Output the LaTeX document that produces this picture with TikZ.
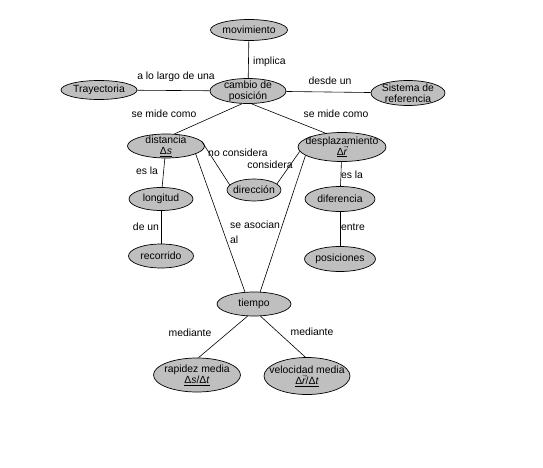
\documentclass[tikz,border=0pt]{standalone}
\usepackage{fontspec}
\setmainfont{Liberation Sans}
\usetikzlibrary{shapes.geometric}
\tikzset{
  tx/.style={font=\fontsize{10.4}{11}\selectfont, align=center, inner sep=0pt},
  el/.style n args={3}{ellipse, draw=black, line width=0.7pt, fill=black!25,
    inner sep=0pt, minimum width=#1pt, minimum height=#2pt,
    label={[tx]center:#3}},
  conn/.style={draw=black, line width=0.6pt},
  lbl/.style={font=\fontsize{10.4}{11}\selectfont, inner sep=0pt, align=center}
}
\begin{document}
\begin{tikzpicture}[x=1pt, y=-1pt]
\useasboundingbox[fill=white] (0,0) rectangle (543,468);
% concepts
\node[el={77}{21}{movimiento}] (mov) at (249,30) {};
\node[el={76}{25}{cambio de\\posición}] (cam) at (248,91) {};
\node[el={76}{19}{Trayectoria}] (tra) at (99,90) {};
\node[el={74}{25}{Sistema de\\referencia}] (sis) at (408,93) {};
\node[el={77}{24}{distancia\\\underline{Δ\textit{s}}}] (dis) at (166,146) {};
\node[el={88}{29}{desplazamiento\\\underline{Δ$\vec{\textit{r}}$}}] (des) at (342,147) {};
\node[el={54}{22}{dirección}] (dir) at (254,190) {};
\node[el={64}{23}{longitud}] (lon) at (161,199) {};
\node[el={70}{25}{diferencia}] (dif) at (340,199) {};
\node[el={65}{24}{recorrido}] (rec) at (161,256) {};
\node[el={71}{25}{posiciones}] (pos) at (340,259) {};
\node[el={74}{24}{tiempo}] (tie) at (254,304) {};
\node[el={87}{34}{rapidez media\\\underline{Δ\textit{s}/Δ\textit{t}}}] (rap) at (197,375) {};
\node[el={86}{37}{velocidad media\\\underline{Δ$\vec{\textit{r}}$/Δ\textit{t}}}] (vel) at (307,376) {};
% connectors
\draw[conn] (mov) -- (cam);
\draw[conn] (tra) -- (cam);
\draw[conn] (cam) -- (sis);
\draw[conn] (cam.-115) -- (dis.55);
\draw[conn] (cam.-75) -- (des.140);
\draw[conn] (dis) -- (lon);
\draw[conn] (lon) -- (rec);
\draw[conn] (des) -- (dif);
\draw[conn] (dif) -- (pos);
\draw[conn] (dis.8) -- (dir.168);
\draw[conn] (des.186) -- (dir.15);
\draw[conn] (dis.-15) -- (tie.127);
\draw[conn] (des.193) -- (tie.63);
\draw[conn] (tie.-118) -- (rap.85);
\draw[conn] (tie.-62) -- (vel.95);
% linking phrases
\node[lbl, anchor=west] (l1) at (253,62) {implica};
\node[lbl] (l2) at (176,77) {a lo largo de una};
\node[lbl] (l3) at (330,81) {desde un};
\node[lbl] (l4) at (164,114) {se mide como};
\node[lbl] (l5) at (336,114) {se mide como};
\node[lbl] (l6) at (238,153) {no considera};
\node[lbl] (l7) at (270,165) {considera};
\node[lbl] (l8) at (147,171) {es la};
\node[lbl] (l9) at (352,175) {es la};
\node[lbl] (l10) at (146,227) {de un};
\node[lbl] (l11) at (353,227) {entre};
\node[lbl, align=left, anchor=west, font=\fontsize{10.4}{15}\selectfont] (l12) at (230,232) {se asocian\\al};
\node[lbl] (l13) at (190,333) {mediante};
\node[lbl] (l14) at (312,332) {mediante};
\end{tikzpicture}
\end{document}
